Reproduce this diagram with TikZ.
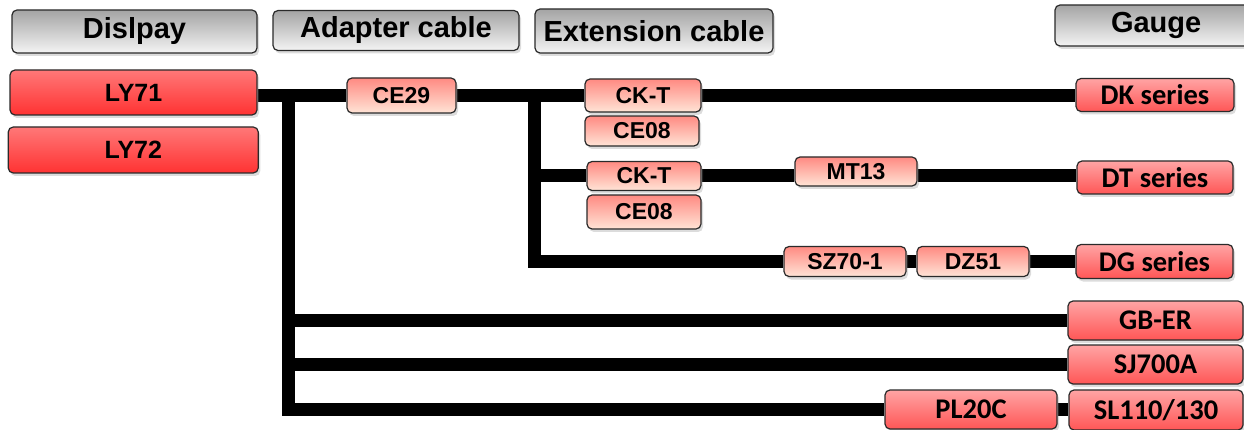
\documentclass[tikz,border=0pt]{standalone}
\usepackage{fontspec}
\setmainfont{Liberation Sans}
\newfontfamily\calfont{Carlito}
\usetikzlibrary{shadows,backgrounds}
\definecolor{hdrtop}{HTML}{A4A4A4}
\definecolor{hdrbot}{HTML}{F4F4F4}
\definecolor{lytop}{HTML}{FF7878}
\definecolor{lybot}{HTML}{FF3232}
\definecolor{gatop}{HTML}{FFA4A4}
\definecolor{gabot}{HTML}{FF5656}
\definecolor{catop}{HTML}{FF8A82}
\definecolor{cabot}{HTML}{FFE4D6}
\definecolor{edge}{HTML}{2A2A2A}
\begin{document}
\begin{tikzpicture}[x=1pt,y=-1pt,
  box/.style={draw=edge, line width=1.2pt, rounded corners=5pt, inner sep=0pt,
    drop shadow={shadow xshift=2pt,shadow yshift=-3pt,opacity=0.28}},
  hdr/.style={box, top color=hdrtop, bottom color=hdrbot,
    font=\fontsize{29}{34}\selectfont\bfseries},
  disp/.style={box, top color=lytop, bottom color=lybot,
    font=\fontsize{25}{30}\selectfont\bfseries},
  gauge/.style={box, top color=gatop, bottom color=gabot,
    font=\calfont\fontsize{28.5}{33}\selectfont\bfseries},
  cab/.style={box, top color=catop, bottom color=cabot,
    font=\fontsize{23}{28}\selectfont\bfseries},
  cable/.style={draw=black, line width=13pt, line cap=butt, line join=miter}
]
\useasboundingbox (0,0) rectangle (1244,430);

% headers
\node[hdr, minimum width=245pt, minimum height=43pt] (hdisp) at (134.5,31.5) {Dislpay};
\node[hdr, minimum width=246pt, minimum height=40pt] (hadap) at (396,30.5) {Adapter cable};
\node[hdr, minimum width=238pt, minimum height=44pt] (hext) at (654,31) {Extension cable};
\node[hdr, minimum width=196pt, minimum height=41pt, text width=188pt, align=left] (hgauge) at (1153,25.5) {\hspace*{52pt}Gauge};

% displays
\node[disp, minimum width=247pt, minimum height=45pt] (ly71) at (133.5,92.5) {LY71};
\node[disp, minimum width=250pt, minimum height=46pt] (ly72) at (133.25,150) {LY72};

% cables
\node[cab, minimum width=109pt, minimum height=35pt] (ce29) at (401.5,95.5) {CE29};
\node[cab, minimum width=116pt, minimum height=33pt] (ckt1) at (643,95.5) {CK-T};
\node[cab, minimum width=114pt, minimum height=30pt] (ce08a) at (642,131) {CE08};
\node[cab, minimum width=114pt, minimum height=29pt] (ckt2) at (644,176) {CK-T};
\node[cab, minimum width=114pt, minimum height=34pt] (ce08b) at (644,212) {CE08};
\node[cab, minimum width=122pt, minimum height=29pt] (mt13) at (856,171.5) {MT13};
\node[cab, minimum width=122pt, minimum height=30pt] (sz70) at (845,261.5) {SZ70-1};
\node[cab, minimum width=112pt, minimum height=30pt] (dz51) at (973,261.5) {DZ51};

% gauges
\node[gauge, minimum width=158pt, minimum height=33pt] (dk) at (1155,95) {DK series};
\node[gauge, minimum width=156pt, minimum height=33pt] (dt) at (1155,177.5) {DT series};
\node[gauge, minimum width=157pt, minimum height=34pt] (dg) at (1154.5,261.5) {DG series};
\node[gauge, minimum width=175pt, minimum height=39pt] (gber) at (1155.5,320.5) {GB-ER};
\node[gauge, minimum width=175pt, minimum height=39pt] (sj) at (1155.5,364.5) {SJ700A};
\node[gauge, minimum width=174pt, minimum height=40pt] (sl) at (1156,410) {SL110/130};
\node[gauge, minimum width=172pt, minimum height=39pt] (pl) at (971,409.5) {PL20C};

\coordinate (j1) at (288,95.5);
\coordinate (j2) at (534,95.5);

\begin{scope}[on background layer]
\draw[cable] (ly71.east |- ce29.west) -- (ce29.west);
\draw[cable] (ce29.east) -- (ckt1.west);
\draw[cable] (ckt1.east) -- (dk.west |- ckt1.east);
\draw[cable] (j1) |- (pl.west);
\draw[cable] (pl.east) -- (sl.west |- pl.east);
\draw[cable] (j1 |- gber.west) -- (gber.west);
\draw[cable] (j1 |- sj.west) -- (sj.west);
\draw[cable] (j2) |- (sz70.west);
\draw[cable] (sz70.east) -- (dz51.west);
\draw[cable] (dz51.east) -- (dg.west);
\draw[cable] (j2 |- ckt2.west) -- (ckt2.west);
\draw[cable] (ckt2.east) -- (mt13.west |- ckt2.east);
\draw[cable] (mt13.east |- ckt2.east) -- (dt.west |- ckt2.east);
\end{scope}
\end{tikzpicture}
\end{document}
